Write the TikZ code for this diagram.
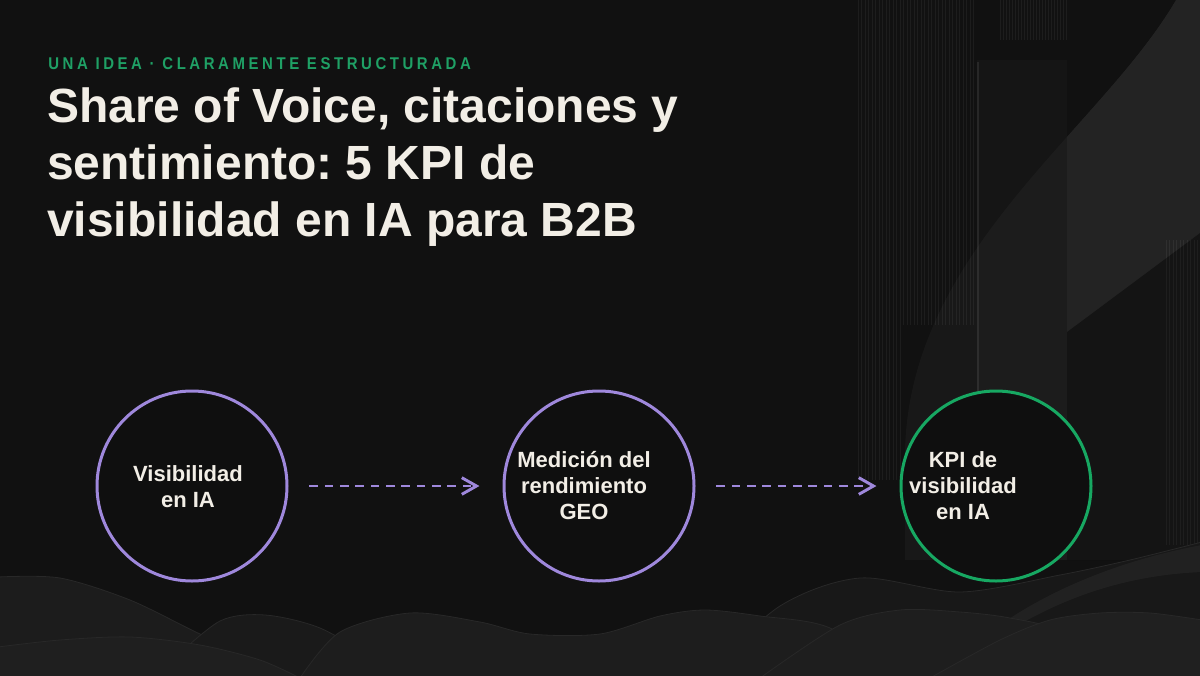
\documentclass[tikz,border=0pt]{standalone}
\usepackage{fontspec}
\setmainfont{Liberation Sans}
\newfontfamily\kickerfont[LetterSpace=21,FakeStretch=0.88]{Liberation Sans}
\usetikzlibrary{arrows.meta}

\definecolor{bg}{HTML}{111111}
\definecolor{innerbg}{HTML}{0F0F0F}
\definecolor{titlewhite}{HTML}{F2EEE6}
\definecolor{kickergreen}{HTML}{1FA065}
\definecolor{stagepurple}{HTML}{9F88DC}
\definecolor{kpigreen}{HTML}{17A862}
\definecolor{hilledge}{HTML}{282828}
\definecolor{hillA}{HTML}{181818}
\definecolor{hillB}{HTML}{1A1A1A}
\definecolor{hillC}{HTML}{1C1C1C}
\definecolor{hillD}{HTML}{1D1D1D}
\definecolor{hillE}{HTML}{1E1E1E}
\definecolor{hillF}{HTML}{1F1F1F}
\definecolor{hillG}{HTML}{202020}

\frenchspacing

\begin{document}
\begin{tikzpicture}[x=0.75pt,y=-0.75pt,
  stage/.style={circle,draw=stagepurple,line width=2.25pt,fill=innerbg,minimum size=142.5pt,inner sep=0pt},
  stagetext/.style={text=titlewhite,font=\bfseries\fontsize{16.5}{19.5}\selectfont,align=center},
  flow/.style={draw=stagepurple,line width=2.2pt,dash pattern=on 6.5pt off 5pt,-{Straight Barb[length=11pt,width=12.5pt]},shorten <=15.7pt,shorten >=17.3pt},
  stripe/.style={draw=white,opacity=0.05,line width=0.4pt},
  hill/.style={fill=#1,draw=hilledge,line width=0.6pt}]

\useasboundingbox (0,0) rectangle (1200,675);
\fill[bg] (0,0) rectangle (1200,675);

% towers top right
\fill[white,opacity=.02] (977,60) rectangle (1067,560);
\foreach \x in {858,861.5,...,976} \draw[stripe] (\x,0) -- (\x,325);
\foreach \x in {858,861.5,...,903} \draw[stripe] (\x,325) -- (\x,480);
\foreach \x in {1000,1003,...,1066} \draw[stripe] (\x,0) -- (\x,40);
\foreach \x in {1166,1169.5,...,1199} \draw[stripe] (\x,240) -- (\x,545);
\draw[white,opacity=.08,line width=0.8pt] (978,62) -- (978,400);

\begin{scope}
\clip (1176,0) .. controls (1100,130) and (910,250) .. (905,450) -- (905,675) -- (1200,675) -- (1200,0) -- cycle;
\fill[white,opacity=.03] (900,0) rectangle (1200,560);
\fill[white,opacity=.05] (1067,0) -- (1200,0) -- (1200,233) -- (1067,332) -- cycle;
\fill[black,opacity=.15] (1067,332) -- (1200,233) -- (1200,560) -- (1067,560) -- cycle;
\end{scope}

% hills
\path[hill=hillA] plot[smooth] coordinates {(700,678) (780,606) (860,578) (960,592) (1060,575) (1130,560) (1202,542)} -- (1202,678) -- cycle;
\fill[white,opacity=.04] (1202,545) .. controls (1120,560) and (1050,590) .. (1000,625) -- (1015,627) .. controls (1070,595) and (1130,575) .. (1202,572) -- cycle;
\path[hill=hillC] plot[smooth] coordinates {(-2,577) (60,578) (130,600) (200,634) (260,660) (300,678)} -- (-2,678) -- cycle;
\path[hill=hillB] plot[smooth] coordinates {(170,662) (220,621) (265,615) (320,628) (380,662)} -- (380,678) -- (170,678) -- cycle;
\path[hill=hillD] plot[smooth] coordinates {(300,678) (340,632) (410,613) (480,622) (530,634) (600,634) (660,616) (705,610) (760,616) (830,628) (900,678)} -- cycle;
\path[hill=hillE] plot[smooth] coordinates {(760,678) (840,625) (900,610) (960,612) (1010,618) (1060,632) (1100,678)} -- cycle;
\path[hill=hillF] plot[smooth] coordinates {(-2,647) (60,640) (130,637) (200,645) (260,660) (300,678)} -- (-2,678) -- cycle;
\path[hill=hillG] plot[smooth] coordinates {(930,678) (1000,640) (1050,620) (1100,613) (1150,613) (1202,620)} -- (1202,678) -- cycle;

% heading
\node[anchor=base west,text=kickergreen,inner sep=0pt,font=\kickerfont\bfseries\fontsize{12.75}{14}\selectfont] (kicker) at (48,69) {UNA IDEA · CLARAMENTE ESTRUCTURADA};
\node[anchor=base west,text=titlewhite,align=left,inner sep=0pt,font=\bfseries\fontsize{36}{42.75}\selectfont] (title) at (47,236.7) {Share of Voice, citaciones y\\sentimiento: 5 KPI de\\visibilidad en IA para B2B};

% flow
\node[stage] (vis) at (192,486) {};
\node[stage] (geo) at (599,486) {};
\node[stage,draw=kpigreen] (kpi) at (996,486) {};

\node[stagetext] (vistext) at (188,487) {Visibilidad\\en IA};
\node[stagetext] (geotext) at (584,486) {Medición del\\rendimiento\\GEO};
\node[stagetext] (kpitext) at (963,486) {KPI de\\visibilidad\\en IA};

\draw[flow] (vis) -- (geo);
\draw[flow] (geo) -- (kpi);

\end{tikzpicture}
\end{document}
